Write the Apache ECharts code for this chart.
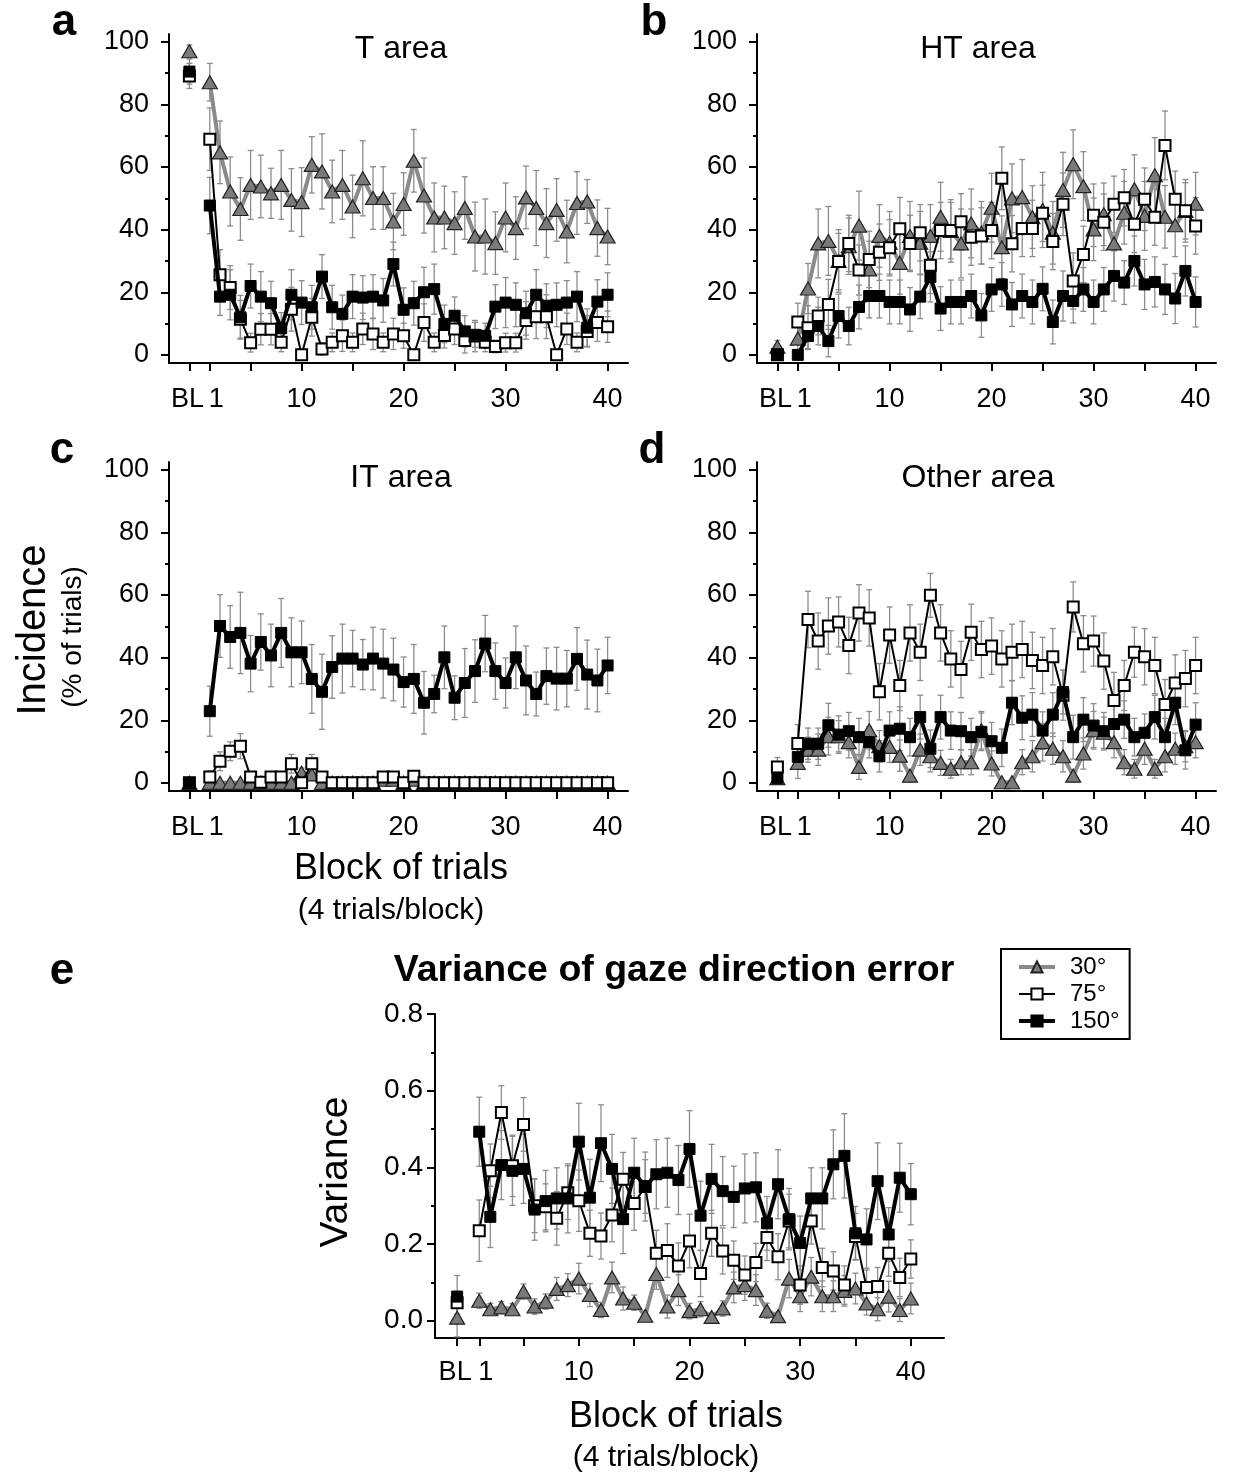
<!DOCTYPE html>
<html><head><meta charset="utf-8">
<script src="https://cdn.jsdelivr.net/npm/echarts@6/dist/echarts.min.js"></script>
<style>html,body{margin:0;padding:0;background:#fff}#c{width:1239px;height:1475px}</style>
</head><body><div id="c"></div>
<script>
// ---------- DATA ----------
const blocks = ['BL',1,2,3,4,5,6,7,8,9,10,11,12,13,14,15,16,17,18,19,20,21,22,23,24,25,26,27,28,29,30,31,32,33,34,35,36,37,38,39,40];
const seriesNames = ['30°','75°','150°'];
const xTickBlocks = ['BL',1,5,10,15,20,25,30,35,40];
const xLabelBlocks = [1,10,20,30,40];
const blLabelBlocks = ['BL'];
const pctMajorTicks = [0,20,40,60,80,100];
const pctMinorTicks = [10,30,50,70,90];
const varMajorTicks = [0,0.2,0.4,0.6,0.8];
const varMinorTicks = [0.1,0.3,0.5,0.7];
const panelTitles = ['T area','HT area','IT area','Other area','Variance of gaze direction error'];
const panelLetters = ['a','b','c','d','e'];

// Panel a: T area
const A30 = [97,87.1,64.7,52.2,46.6,54.3,53.8,51.6,54.3,49.5,48.8,60.7,58.6,52.2,54.3,47.4,56.4,50.1,50.1,42.6,48.2,62.0,50.9,43.9,43.9,42.1,46.9,37.8,37.8,35.7,43.9,40.5,50.3,46.9,42.1,46.3,39.4,48.5,49.0,40.5,37.8];
const A30err = [2,6,10,11,10,11,10,8,11,10,11,9,12,10,11,10,12,10,10,9,10,10,12,11,10,10,10,11,12,10,11,10,10,12,11,10,10,10,7,9,9];
const A75 = [89.1,68.9,25.6,21.5,11.4,3.9,8.2,8.2,4.0,14.6,0,12.0,1.9,4.0,6.1,4.0,8.3,6.7,4.0,6.7,6.1,0,10.3,4.0,6.2,8.3,4.6,6.0,4.0,2.7,3.9,3.9,11.0,12.2,12.2,0,8.3,4.0,7.5,10.3,9.0];
const A75err = [4,10,8,7,6,3,5,5,3,7,0,6,2,3,5,3,5,5,3,5,4,0,6,3,4,5,4,5,3,2,3,3,6,7,7,0,5,3,5,6,5];
const A150 = [90.5,47.7,18.6,19.2,12.0,22.0,18.6,16.5,8.5,19.2,16.7,15.2,25.0,15.2,13.1,18.6,18.3,18.6,17.4,29.0,14.4,16.5,20.0,21.0,9.9,12.5,7.5,6.4,6.1,15.4,16.7,16.0,13.3,19.2,15.7,16.0,16.7,18.6,8.7,17.0,19.2];
const A150err = [4,9,6,8,7,7,8,7,5,8,7,7,7,7,6,7,7,7,7,7,7,7,8,8,6,6,5,4,4,7,8,7,7,8,7,7,7,8,6,7,7];

// Panel b: HT area
const B30 = [2.6,5.2,21.2,35.6,36.4,30,34.7,41.3,27.3,38.0,35.8,29.4,38.0,35.8,38.0,44.1,39.6,35.6,42.0,39.0,47.0,34.4,50.0,50.4,44.0,46.3,39.0,52.7,60.9,53.9,40.1,44.9,35.6,45.4,52.9,44.4,57.4,44.1,41.4,46.0,48.3];
const B30err = [2,4,8,11,11,10,9,11,9,10,10,10,11,10,10,11,10,11,11,10,11,10,11,12,10,12,10,12,11,11,10,10,11,10,11,11,12,10,10,10,10];
const B75 = [0,10.5,8.7,12.4,16.1,29.8,35.6,27.1,30.5,32.8,34.2,40.3,35.6,39.0,28.6,39.7,39.7,42.5,37.6,38.0,39.7,56.4,35.5,40.4,40.4,45.2,36.2,48.1,23.6,32.1,44.6,42.4,48.1,50.2,41.7,49.7,44.0,66.9,49.7,46.0,41.2];
const B75err = [0,6,7,6,8,9,9,8,9,9,9,10,9,9,9,9,9,9,9,9,9,10,9,9,9,9,9,10,9,9,10,9,9,9,9,10,9,11,9,9,9];
const B150 = [0,0,6.0,9.2,4.4,12.4,9.2,15.3,18.8,18.8,16.9,16.9,14.5,18.6,24.9,14.8,16.9,16.9,18.8,12.6,20.9,22.5,16.1,18.8,16.9,21.1,10.5,18.8,17.2,20.9,16.9,20.9,25.2,23.1,30.0,22.5,23.3,20.9,18.0,26.8,16.9];
const B150err = [0,0,4,6,5,7,6,7,7,7,7,7,7,7,8,7,7,7,7,7,7,7,7,7,7,7,7,8,7,7,7,7,8,7,8,8,8,8,8,8,8];

// Panel c: IT area
const C30 = [0,0,0,0,0,0,0,0,0,0,3.2,2.7,0,0,0,0,0,0,1,1,0,1,0,0,0,0,0,0,0,0,0,0,0,0,0,0,0,0,0,0,0];
const C30err = [0,0,0,0,0,0,0,0,0,0,1.5,1.5,0,0,0,0,0,0,1,1,0,1,0,0,0,0,0,0,0,0,0,0,0,0,0,0,0,0,0,0,0];
const C75 = [0,1.9,6.9,10.1,11.7,1.9,0.2,1.9,1.9,6.1,0,6.1,1.9,0,0,0,0,0,1.9,1.9,0,2.1,0,0,0,0,0,0,0,0,0,0,0,0,0,0,0,0,0,0,0];
const C75err = [0,2,3,3,4,1.5,0,1.5,1.5,3,0,3,1.5,0,0,0,0,0,1.5,1.5,0,1.5,0,0,0,0,0,0,0,0,0,0,0,0,0,0,0,0,0,0,0];
const C150 = [0,22.9,50.1,46.6,47.9,38.1,45.0,40.7,47.9,41.7,41.7,33.2,29.1,37.0,39.7,39.7,37.8,39.7,38.1,36.2,32.2,33.2,25.6,28.4,40.1,27.2,31.9,35.7,44.5,35.7,31.9,40.1,32.7,28.4,34.1,33.3,33.3,39.6,34.6,32.7,37.5];
const C150err = [0,8,10,10,13,9,9,10,11,11,10,11,12,10,11,9,8,10,11,10,8,11,10,6,10,7,11,10,9,9,8,10,11,7,9,10,9,10,11,10,9];

// Panel d: Other area
const D30 = [1.5,6.4,10.6,10.6,14.9,14.9,13.0,5.1,16.8,11.7,11.5,8.7,2.3,10.6,8.5,6.4,4.5,6.6,6.6,16.8,6.2,0.2,0.2,6.6,8.5,13.0,10.9,8.5,2.3,9.4,16.8,16.0,13.0,6.6,4.5,10.9,4.5,8.5,10.9,11.7,13.0];
const D30err = [1,5,4,5,6,5,5,4,6,5,5,5,2,5,5,4,3,4,4,6,4,0,0,4,5,6,5,5,2,5,6,5,5,4,3,5,3,5,5,5,5];
const D75 = [5.1,12.6,52.2,45.3,50.1,51.4,43.9,54.3,52.7,29.1,47.2,31.1,47.9,41.7,59.9,47.9,39.6,36.2,48.1,42.6,43.7,39.6,41.7,42.6,39.1,37.5,40.3,28.0,56.2,44.4,45.3,38.9,26.3,31.1,41.7,40.3,37.5,25.0,31.9,33.3,37.5];
const D75err = [3,6,9,9,9,8,9,9,9,9,9,8,9,9,7,9,9,9,9,9,9,9,9,9,9,9,9,8,8,9,8,9,9,8,8,9,9,8,9,9,9];
const D150 = [1.6,8.3,12.5,12.5,18.4,15.4,16.5,14.6,13.0,8.5,16.7,17.3,14.6,21.0,10.9,21.0,16.7,16.5,14.6,16.3,13.3,11.2,25.6,20.8,21.8,16.7,21.8,29.0,14.6,20.2,18.3,16.5,18.8,20.2,14.6,16.0,21.0,14.6,25.6,10.4,18.6];
const D150err = [1,4,5,5,7,6,6,6,5,5,6,7,6,7,6,7,6,6,6,6,6,6,7,7,7,6,7,7,7,7,7,6,7,6,6,6,7,6,7,6,7];

// Panel e: variance of gaze direction error
const E30 = [0.008,0.052,0.030,0.035,0.030,0.076,0.037,0.050,0.083,0.093,0.110,0.067,0.028,0.113,0.058,0.047,0.013,0.122,0.037,0.080,0.025,0.030,0.010,0.032,0.087,0.093,0.080,0.026,0.012,0.110,0.064,0.115,0.064,0.064,0.078,0.084,0.045,0.030,0.063,0.028,0.058];
const E30err = [0.05,0.02,0.015,0.015,0.015,0.02,0.02,0.02,0.03,0.03,0.04,0.03,0.02,0.04,0.03,0.02,0.01,0.04,0.03,0.04,0.02,0.02,0.01,0.02,0.04,0.04,0.04,0.02,0.01,0.05,0.04,0.05,0.04,0.04,0.04,0.04,0.03,0.03,0.04,0.03,0.04];
const E75 = [0.047,0.235,0.391,0.543,0.404,0.512,0.300,0.297,0.267,0.334,0.313,0.228,0.221,0.276,0.369,0.306,0.350,0.176,0.183,0.143,0.208,0.123,0.228,0.182,0.158,0.119,0.152,0.217,0.167,0.260,0.093,0.260,0.139,0.130,0.093,0.220,0.087,0.089,0.176,0.113,0.161];
const E75err = [0.03,0.08,0.07,0.07,0.08,0.07,0.07,0.06,0.07,0.07,0.08,0.06,0.06,0.07,0.07,0.07,0.07,0.06,0.07,0.06,0.07,0.06,0.06,0.06,0.05,0.05,0.05,0.06,0.06,0.07,0.05,0.06,0.05,0.05,0.05,0.06,0.05,0.05,0.06,0.05,0.05];
const E150 = [0.063,0.493,0.271,0.406,0.391,0.396,0.290,0.312,0.319,0.319,0.467,0.321,0.463,0.396,0.265,0.386,0.350,0.382,0.386,0.367,0.448,0.274,0.370,0.338,0.323,0.345,0.348,0.254,0.356,0.265,0.203,0.319,0.319,0.408,0.430,0.228,0.212,0.364,0.225,0.373,0.330];
const E150err = [0.055,0.09,0.08,0.09,0.09,0.09,0.08,0.08,0.08,0.09,0.1,0.1,0.1,0.09,0.09,0.09,0.09,0.09,0.09,0.09,0.1,0.09,0.09,0.09,0.08,0.09,0.09,0.07,0.09,0.08,0.07,0.08,0.08,0.09,0.11,0.07,0.08,0.1,0.07,0.09,0.08];

// ---------- LAYOUT / STYLE ----------
const FONT = 'Liberation Sans, Arial, Helvetica, sans-serif';
const BL_POS = -1;
const pos = b => (b === 'BL' ? BL_POS : b);
const grids = [
  {left:169, top:34,  width:459, height:329},
  {left:757, top:34,  width:459, height:329},
  {left:169, top:462, width:459, height:329},
  {left:757, top:462, width:459, height:329},
  {left:435, top:1014, width:509, height:324}
];
const panels = [
  {d:[A30,A75,A150], e:[A30err,A75err,A150err], pct:true},
  {d:[B30,B75,B150], e:[B30err,B75err,B150err], pct:true},
  {d:[C30,C75,C150], e:[C30err,C75err,C150err], pct:true},
  {d:[D30,D75,D150], e:[D30err,D75err,D150err], pct:true},
  {d:[E30,E75,E150], e:[E30err,E75err,E150err], pct:false}
];
const styles = [
  {line:{color:'#8a8a8a', width:4}, symbol:'triangle', size:[15,13], item:{color:'#7a7a7a', borderColor:'#222', borderWidth:1.2}},
  {line:{color:'#000', width:2}, symbol:'rect', size:11, item:{color:'#fff', borderColor:'#000', borderWidth:2}},
  {line:{color:'#000', width:4}, symbol:'rect', size:11, item:{color:'#000', borderColor:'#000', borderWidth:1}}
];

function lineData(vals){
  const out = [];
  blocks.forEach((b,i)=>{
    out.push([pos(b), vals[i]]);
    if (b === 'BL') out.push([0, '-']);
  });
  return out;
}
function errData(vals, errs){
  return blocks.map((b,i)=>[pos(b), vals[i], errs[i]]);
}
function errRender(params, api){
  const x = api.value(0), y = api.value(1), e = api.value(2);
  if (!e) return null;
  const t = api.coord([x, y+e]), b = api.coord([x, y-e]);
  const w = 3, st = {stroke:'#8c8c8c', lineWidth:1.3};
  return {type:'group', children:[
    {type:'line', shape:{x1:t[0],y1:t[1],x2:b[0],y2:b[1]}, style:st},
    {type:'line', shape:{x1:t[0]-w,y1:t[1],x2:t[0]+w,y2:t[1]}, style:st},
    {type:'line', shape:{x1:b[0]-w,y1:b[1],x2:b[0]+w,y2:b[1]}, style:st}
  ]};
}

const xAxis = [], yAxis = [], series = [];
panels.forEach((p, g)=>{
  const isE = !p.pct;
  const xmax = isE ? 43 : 42;
  const labelBase = {fontSize:27, color:'#000', fontFamily:FONT, margin: isE ? 21 : 23, hideOverlap:false};
  xAxis.push({
    gridIndex:g, type:'value', min:-3, max:xmax,
    axisLine:{show:true, onZero:false, lineStyle:{color:'#000', width:2}},
    axisTick:{show:true, customValues:xTickBlocks.map(pos), length:8, lineStyle:{color:'#000', width:2}},
    axisLabel:Object.assign({show:true, customValues:xLabelBlocks.map(pos),
      formatter:v=> v === 1 ? '{one|1}' : String(v),
      rich:{one:{fontSize:27, color:'#000', fontFamily:FONT, padding:[0,0,0,13]}}}, labelBase),
    splitLine:{show:false}
  });
  // separate axis carrying the "BL" label so it is not dropped as overlapping
  xAxis.push({
    gridIndex:g, type:'value', min:-3, max:xmax, position:'bottom',
    axisLine:{show:false, onZero:false}, axisTick:{show:false},
    axisLabel:Object.assign({show:true, customValues:blLabelBlocks.map(pos), formatter:()=> '{bl|BL}',
      rich:{bl:{fontSize:27, color:'#000', fontFamily:FONT, padding:[0,4,0,0]}}}, labelBase),
    splitLine:{show:false}
  });
  const ymin = isE ? -0.045 : -2.6, ymax = isE ? 0.8 : 102.5;
  yAxis.push({
    gridIndex:g, type:'value', min:ymin, max:ymax,
    axisLine:{show:true, onZero:false, lineStyle:{color:'#000', width:2}},
    axisTick:{show:true, customValues: isE ? varMajorTicks : pctMajorTicks, length:8, lineStyle:{color:'#000', width:2}},
    axisLabel:{show:true, customValues: isE ? varMajorTicks : pctMajorTicks,
      formatter: v => isE ? v.toFixed(1) : String(v),
      fontSize: isE ? 28 : 27, color:'#000', fontFamily:FONT, margin: isE ? 12 : 20},
    splitLine:{show:false}
  });
  yAxis.push({
    gridIndex:g, type:'value', min:ymin, max:ymax, position:'left',
    axisLine:{show:false, onZero:false},
    axisTick:{show:true, customValues: isE ? varMinorTicks : pctMinorTicks, length:4, lineStyle:{color:'#000', width:2}},
    axisLabel:{show:false}, splitLine:{show:false}
  });
  // error bars first
  [0,1,2].forEach(k=>{
    series.push({
      type:'custom', xAxisIndex:2*g, yAxisIndex:2*g, z:1, silent:true,
      renderItem:errRender, data:errData(p.d[k], p.e[k])
    });
  });
  [0,1,2].forEach(k=>{
    const s = styles[k];
    series.push({
      name:seriesNames[k], type:'line', xAxisIndex:2*g, yAxisIndex:2*g, z:3+k,
      data:lineData(p.d[k]), connectNulls:false,
      symbol:s.symbol, symbolSize:s.size, showAllSymbol:true,
      lineStyle:s.line, itemStyle:s.item, emphasis:{disabled:true}
    });
  });
});

const graphic = [];
function txt(x, y, text, size, opts){
  opts = opts || {};
  graphic.push({type:'text', x:x, y:y, rotation:opts.rot||0, z:100,
    style:{text:text, font:(opts.bold?'bold ':'')+size+'px '+FONT, fill:'#000', textAlign:'center', textVerticalAlign:'middle', align:'center', verticalAlign:'middle'}});
}
// panel letters
txt(64, 23, panelLetters[0], 44, {bold:true});
txt(654, 23, panelLetters[1], 44, {bold:true});
txt(62, 451, panelLetters[2], 44, {bold:true});
txt(652, 451, panelLetters[3], 44, {bold:true});
txt(62, 972, panelLetters[4], 44, {bold:true});
// panel titles
txt(401, 49, panelTitles[0], 32);
txt(978, 49, panelTitles[1], 32);
txt(401, 478, panelTitles[2], 32);
txt(978, 478, panelTitles[3], 32);
txt(674, 971, panelTitles[4], 37.5, {bold:true});
// axis names
txt(34, 630, 'Incidence', 40, {rot:Math.PI/2});
txt(73, 637, '(% of trials)', 28, {rot:Math.PI/2});
txt(401, 869, 'Block of trials', 36);
txt(391, 911, '(4 trials/block)', 30);
txt(336, 1172, 'Variance', 39, {rot:Math.PI/2});
txt(676, 1417, 'Block of trials', 36);
txt(666, 1458, '(4 trials/block)', 30);

const chart = echarts.init(document.getElementById('c'), null, {renderer:'canvas'});
chart.setOption({
  backgroundColor:'#fff',
  animation:false,
  grid:grids.map(g=>Object.assign({outerBoundsMode:'none'}, g)),
  xAxis, yAxis, series, graphic,
  legend:{
    data:seriesNames, orient:'vertical', left:1001, top:949,
    padding:[6,10,6,16], itemGap:3, itemWidth:36, itemHeight:14,
    borderColor:'#000', borderWidth:2, backgroundColor:'#fff',
    lineStyle:{width:'inherit'},
    textStyle:{fontSize:24, color:'#000', fontFamily:FONT, padding:[0,0,0,10]},
    selectedMode:false
  }
});
</script>
</body></html>
